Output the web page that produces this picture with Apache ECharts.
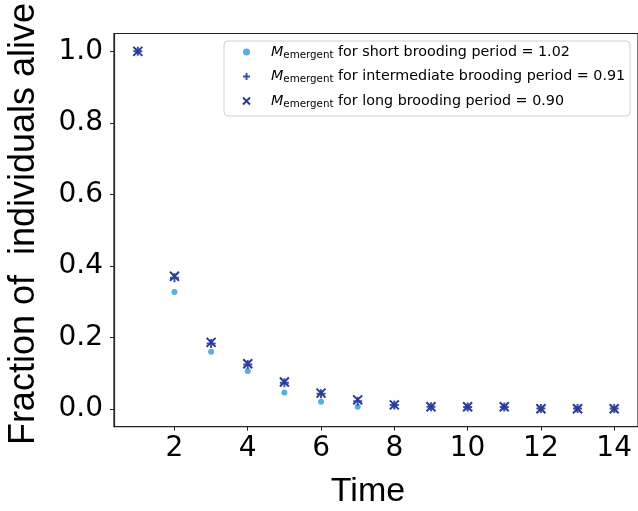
<!DOCTYPE html>
<html>
<head>
<meta charset="utf-8">
<script src="https://cdn.jsdelivr.net/npm/echarts@6/dist/echarts.min.js"></script>
<style>html,body{margin:0;padding:0;background:#fff;}#c{width:638px;height:511px;}</style>
</head>
<body>
<div id="c"></div>
<script>
const times = [1,2,3,4,5,6,7,8,9,10,11,12,13,14];
const shortVals = [1.0,0.327,0.160,0.106,0.046,0.020,0.006,0.009,0.005,0.004,0.004,0.000,0.000,0.000];
const interVals = [1.0,0.367,0.183,0.124,0.073,0.042,0.021,0.011,0.006,0.005,0.005,0.001,0.001,0.001];
const longVals  = [1.0,0.371,0.186,0.126,0.075,0.044,0.025,0.011,0.006,0.006,0.006,0.000,0.000,0.000];
const xTicks = [2,4,6,8,10,12,14];
const yTicks = [0,0.2,0.4,0.6,0.8,1.0];
const seriesNames = ['short','intermediate','long'];
const legendText = {
  short: '{m|M}{s|emergent}{t| for short brooding period = 1.02}',
  intermediate: '{m|M}{s|emergent}{t| for intermediate brooding period = 0.91}',
  long: '{m|M}{s|emergent}{t| for long brooding period = 0.90}'
};

const chart = echarts.init(document.getElementById('c'), null, {renderer:'canvas'});
const pair = arr => times.map((t,i)=>[t,arr[i]]);
const axisColor = '#222';
chart.setOption({
  animation: false,
  backgroundColor: '#fff',
  grid: {left:114, top:33.5, right:-3, bottom:84.3, show:true, borderColor:axisColor, borderWidth:1.2, backgroundColor:'transparent'},
  xAxis: {
    type:'value', min:0.35, max:14.65,
    axisLine:{show:true, onZero:false, lineStyle:{color:axisColor, width:1.2}},
    axisTick:{show:true, length:4, customValues:xTicks, lineStyle:{color:axisColor, width:1}},
    axisLabel:{customValues:xTicks, fontFamily:'DejaVu Sans', fontSize:28, color:'#000', margin:8},
    splitLine:{show:false}
  },
  yAxis: {
    type:'value', min:-0.05, max:1.05,
    axisLine:{show:true, onZero:false, lineStyle:{color:axisColor, width:1.2}},
    axisTick:{show:true, length:4, customValues:yTicks, lineStyle:{color:axisColor, width:1}},
    axisLabel:{customValues:yTicks, fontFamily:'DejaVu Sans', fontSize:28, color:'#000', margin:11,
      formatter: v => v.toFixed(1)},
    splitLine:{show:false}
  },
  legend: {
    orient:'vertical', left:224, top:41,
    padding:[4,5,7,16.5], itemGap:9.5, itemWidth:7, itemHeight:7,
    borderColor:'#d0d0d0', borderWidth:1, borderRadius:4, backgroundColor:'rgba(255,255,255,0.8)',
    data: seriesNames,
    formatter: name => legendText[name],
    textStyle: {
      fontFamily:'DejaVu Sans', fontSize:14.3, color:'#000',
      rich: {
        m:{fontFamily:'DejaVu Sans', fontStyle:'italic', fontSize:14.3, lineHeight:16, padding:[0,0,0,16], color:'#000'},
        s:{fontFamily:'DejaVu Sans', fontSize:10.3, lineHeight:6, verticalAlign:'bottom', color:'#000'},
        t:{fontFamily:'DejaVu Sans', fontSize:14.3, lineHeight:16, color:'#000'}
      }
    }
  },
  graphic: [
    {type:'text', x:24, y:224, rotation:Math.PI/2,
      style:{text:'Fraction of  individuals alive', font:'36px "Liberation Sans"', fill:'#000', textAlign:'center', textVerticalAlign:'middle'}},
    {type:'text', x:368, y:492,
      style:{text:'Time', font:'34px "Liberation Sans"', fill:'#000', textAlign:'center', textVerticalAlign:'middle'}}
  ],
  series: [
    {name:'short', type:'scatter', data:pair(shortVals), symbol:'circle', symbolSize:6,
      itemStyle:{color:'#56b0de', opacity:1}},
    {name:'intermediate', type:'scatter', data:pair(interVals), symbol:'path://M5,0L5,10M0,5L10,5', symbolSize:9,
      itemStyle:{color:'none', borderColor:'#3a50b0', borderWidth:2, opacity:1}},
    {name:'long', type:'scatter', data:pair(longVals), symbol:'path://M0,0L10,10M10,0L0,10', symbolSize:9,
      itemStyle:{color:'none', borderColor:'#2b3a98', borderWidth:2, opacity:1}}
  ]
});
</script>
</body>
</html>
